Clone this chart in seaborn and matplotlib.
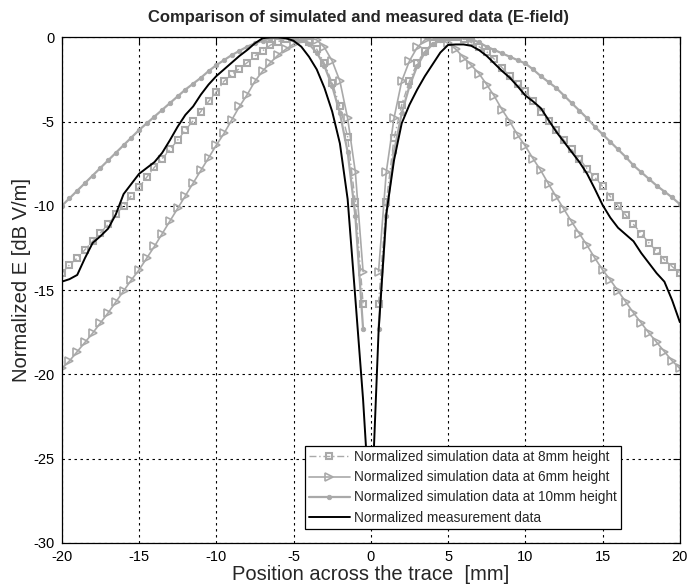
import numpy as np
import pandas as pd
import matplotlib
matplotlib.use("Agg")
import matplotlib.pyplot as plt
import seaborn as sns

# ---------------- data ----------------
x_sim_left = [-20, -19.5, -19, -18.5, -18, -17.5, -17, -16.5, -16, -15.5,
              -15, -14.5, -14, -13.5, -13, -12.5, -12, -11.5, -11, -10.5,
              -10, -9.5, -9, -8.5, -8, -7.5, -7, -6.5, -6, -5.5,
              -5, -4.5, -4, -3.5, -3, -2.5, -2, -1.5, -1, -0.5]
x_sim_right = [0.5, 1, 1.5, 2, 2.5, 3, 3.5, 4, 4.5, 5,
               5.5, 6, 6.5, 7, 7.5, 8, 8.5, 9, 9.5, 10,
               10.5, 11, 11.5, 12, 12.5, 13, 13.5, 14, 14.5, 15,
               15.5, 16, 16.5, 17, 17.5, 18, 18.5, 19, 19.5, 20]

# 8 mm height (squares, dash-dot)
sim8_left = [-14.0, -13.5, -13.1, -12.6, -12.1, -11.6, -11.1, -10.5, -10.0, -9.4,
             -8.9, -8.3, -7.7, -7.2, -6.65, -6.1, -5.5, -4.95, -4.4, -3.8,
             -3.25, -2.6, -2.2, -1.85, -1.5, -1.1, -0.8, -0.46, -0.25, -0.1,
             0.0, -0.1, -0.3, -0.7, -1.55, -2.7, -4.1, -5.9, -9.8, -15.8]
sim8_right = [-15.8, -9.8, -6.0, -4.0, -2.6, -1.5, -0.8, -0.35, -0.1, 0.0,
              0.0, -0.1, -0.3, -0.55, -0.85, -1.3, -1.8, -2.3, -2.75, -3.2,
              -3.8, -4.4, -4.95, -5.5, -6.1, -6.65, -7.2, -7.8, -8.3, -8.85,
              -9.45, -10.0, -10.55, -11.1, -11.65, -12.2, -12.7, -13.2, -13.6, -14.0]

# 6 mm height (right-pointing triangles)
sim6_left = [-19.65, -19.2, -18.65, -18.1, -17.55, -16.95, -16.35, -15.7, -15.05, -14.4,
             -13.8, -13.1, -12.4, -11.65, -10.9, -10.15, -9.4, -8.65, -7.9, -7.15,
             -6.4, -5.7, -4.9, -4.1, -3.4, -2.6, -2.0, -1.5, -1.05, -0.7,
             -0.4, -0.15, 0.0, -0.15, -0.6, -1.4, -2.6, -4.8, -8.0, -13.9]
sim6_right = [-13.9, -8.0, -4.8, -2.6, -1.4, -0.6, -0.15, 0.0, -0.1, -0.35,
              -0.7, -1.2, -1.65, -2.15, -2.8, -3.5, -4.3, -5.0, -5.8, -6.45,
              -7.2, -7.9, -8.7, -9.46, -10.2, -10.95, -11.65, -12.35, -13.1, -13.8,
              -14.4, -15.05, -15.7, -16.35, -16.95, -17.55, -18.1, -18.65, -19.2, -19.65]

# 10 mm height (dots)
sim10_left = [-10.0, -9.55, -9.1, -8.65, -8.2, -7.75, -7.3, -6.85, -6.4, -5.95,
              -5.5, -5.1, -4.7, -4.3, -3.9, -3.5, -3.1, -2.75, -2.4, -2.0,
              -1.65, -1.35, -1.05, -0.8, -0.55, -0.35, -0.2, -0.08, 0.0, 0.0,
              -0.05, -0.15, -0.4, -0.9, -1.7, -2.9, -4.5, -6.8, -10.6, -17.3]
sim10_right = [-17.3, -10.6, -6.8, -4.5, -2.9, -1.7, -0.9, -0.4, -0.15, -0.03,
               0.0, 0.0, -0.1, -0.3, -0.55, -0.75, -0.95, -1.15, -1.35, -1.55,
               -1.9, -2.3, -2.65, -3.0, -3.45, -3.9, -4.35, -4.8, -5.3, -5.75,
               -6.2, -6.65, -7.1, -7.6, -8.0, -8.4, -8.8, -9.15, -9.5, -9.9]

# measurement (black)
x_meas = [-20, -19.5, -19, -18.5, -18, -17.5, -17, -16.5, -16, -15.5,
          -15, -14.5, -14, -13.5, -13, -12.5, -12, -11.5, -11, -10.5,
          -10, -9.5, -9, -8.5, -8, -7.5, -7, -6.5, -6, -5.5,
          -5, -4.5, -4, -3.5, -3, -2.5, -2, -1.5, -1, -0.5,
          0, 0.5, 1, 1.5, 2, 2.5, 3, 3.5, 4, 4.5,
          5, 5.5, 6, 6.5, 7, 7.5, 8, 8.5, 9, 9.5,
          10, 10.5, 11, 11.5, 12, 12.5, 13, 13.5, 14, 14.5,
          15, 15.5, 16, 16.5, 17, 17.5, 18, 18.5, 19, 19.5, 20]
meas = [-14.5, -14.35, -14.1, -13.1, -12.2, -11.8, -11.35, -10.5, -9.3, -8.7,
        -8.1, -7.75, -7.4, -6.85, -6.1, -5.3, -4.6, -4.1, -3.4, -2.8,
        -2.3, -1.9, -1.5, -1.1, -0.75, -0.35, -0.05, 0.0, 0.0, -0.05,
        -0.2, -0.55, -1.15, -1.9, -3.0, -4.4, -6.3, -9.6, -15.5, -21.5,
        -29.0, -17.5, -10.5, -7.3, -5.1, -4.0, -3.1, -2.3, -1.6, -0.9,
        -0.45, -0.42, -0.42, -0.5, -0.75, -1.1, -1.55, -2.0, -2.4, -2.9,
        -3.45, -3.8, -4.2, -4.9, -5.6, -6.2, -6.8, -7.4, -8.1, -9.0,
        -9.95, -10.7, -11.3, -11.7, -12.1, -12.8, -13.4, -14.0, -14.5, -15.6, -16.9]

labels = ["Normalized simulation data at 8mm height",
          "Normalized simulation data at 6mm height",
          "Normalized simulation data at 10mm height",
          "Normalized measurement data"]
x_ticks = [-20, -15, -10, -5, 0, 5, 10, 15, 20]
y_ticks = [0, -5, -10, -15, -20, -25, -30]

# ---------------- figure ----------------
sns.set_style("white")
plt.rcParams["font.family"] = ["Liberation Sans", "DejaVu Sans"]
plt.rcParams["axes.unicode_minus"] = False

fig = plt.figure(figsize=(6.98, 5.84), dpi=100)
ax = fig.add_axes([0.0885, 0.0705, 0.8855, 0.8655])

gray = "#a9a9a9"


def sim_frame(left, right):
    return pd.DataFrame({
        "x": x_sim_left + x_sim_right,
        "y": left + right,
        "half": ["L"] * len(x_sim_left) + ["R"] * len(x_sim_right),
    })


styles = [
    (sim8_left, sim8_right, dict(marker="s", markersize=5, markeredgewidth=1.5,
                                 markerfacecolor="none", markeredgecolor=gray,
                                 dashes=(5, 2, 1, 2), linewidth=1.0)),
    (sim6_left, sim6_right, dict(marker=">", markersize=5.5, markeredgewidth=1.2,
                                 markerfacecolor="none", markeredgecolor=gray,
                                 linewidth=1.2)),
    (sim10_left, sim10_right, dict(marker="o", markersize=3.2, markeredgewidth=0.6,
                                   markerfacecolor=gray, markeredgecolor=gray,
                                   linewidth=1.6)),
]

handles = []
for (lft, rgt, kw) in styles:
    df = sim_frame(lft, rgt)
    n_before = len(ax.get_lines())
    sns.lineplot(data=df, x="x", y="y", units="half", estimator=None, sort=False,
                 color=gray, ax=ax, legend=False, **kw)
    handles.append(ax.get_lines()[n_before])

dm = pd.DataFrame({"x": x_meas, "y": meas})
n_before = len(ax.get_lines())
sns.lineplot(data=dm, x="x", y="y", estimator=None, sort=False, color="black",
             linewidth=1.4, ax=ax, legend=False)
handles.append(ax.get_lines()[n_before])

ax.set_xlim(-20, 20)
ax.set_ylim(-30, 0)
ax.set_xticks(x_ticks)
ax.set_yticks(y_ticks)
ax.set_xticklabels([str(v) for v in x_ticks])
ax.set_yticklabels([str(v) for v in y_ticks])
ax.grid(True, color="black", linestyle=(0, (2.2, 3.2)), linewidth=0.8)
ax.set_axisbelow(True)
for s in ax.spines.values():
    s.set_color("black")
    s.set_linewidth(0.9)
ax.tick_params(direction="in", top=True, right=True, length=5, width=0.8,
               labelsize=10.5, colors="black", pad=5)

ax.set_title("Comparison of simulated and measured data (E-field)",
             fontsize=12, fontweight="bold", pad=11, x=0.48)
ax.set_xlabel("Position across the trace  [mm]", fontsize=14.5, labelpad=1)
ax.set_ylabel("Normalized E [dB V/m]", fontsize=14.5, labelpad=5)
ax.yaxis.set_label_coords(-0.05, 0.52)

leg = ax.legend(handles, labels, loc="lower right", bbox_to_anchor=(0.905, 0.028),
                fontsize=9.8, frameon=True, fancybox=False, framealpha=1,
                edgecolor="black", handlelength=3.0, borderpad=0.3,
                labelspacing=0.45, handletextpad=0.35, borderaxespad=0)
leg.get_frame().set_linewidth(0.9)

fig.savefig("out.png", dpi=100, facecolor="white")
